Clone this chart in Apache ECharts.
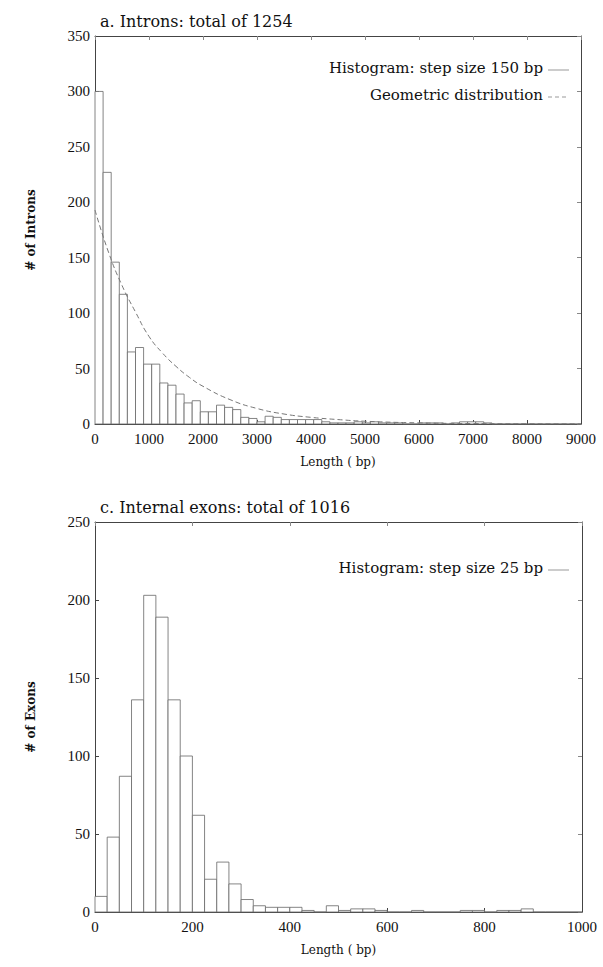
<!DOCTYPE html>
<html><head><meta charset="utf-8">
<script src="https://cdn.jsdelivr.net/npm/echarts@6/dist/echarts.min.js"></script>
<style>html,body{margin:0;padding:0;background:#fff}#c{width:603px;height:967px}</style>
</head><body><div id="c"></div>
<script>
// ---- Data ----
const intronStep = 150;
const intronCounts = [300,227,146,117,65,69,54,54,37,35,27,19,21,11,11,17,15,13,6,5,
  2,7,6,4,4,4,4,4,2,1,1,1,2,1,2,1,1,1,0,0,
  1,1,1,0,1,2,2,2,1,0,0,0,0,0,0,0,0,0,0,0];
const geoX = [0,250,500,750,1000,1250,1500,1750,2000,2500,3000,3500,4000,4500,5000,6000,7000,8000,9000];
const geoY = [193,155,125,101,79,64,52,42,34,22,14,9,6,4,2.5,1,0.4,0.2,0.1];
const exonStep = 25;
const exonCounts = [10,48,87,136,203,189,136,100,62,21,32,18,8,4,3,3,3,1,0,4,
  1,2,2,1,0,0,1,0,0,0,1,1,0,1,1,2,0,0,0,0];
const intronXTicks = [0,1000,2000,3000,4000,5000,6000,7000,8000,9000];
const intronYTicks = [0,50,100,150,200,250,300,350];
const exonXTicks = [0,200,400,600,800,1000];
const exonYTicks = [0,50,100,150,200,250];

const FONT = '"Liberation Serif", "DejaVu Serif", serif';
const WFONT = '"DejaVu Serif", "Liberation Serif", serif';
const AX = '#444';

function bins(counts, step){ return counts.map((c,i)=>[i*step,(i+1)*step,c]); }
function histItem(params, api){
  const p0 = api.coord([api.value(0), api.value(2)]);
  const p1 = api.coord([api.value(1), 0]);
  return {type:'rect', shape:{x:p0[0], y:p0[1], width:p1[0]-p0[0], height:p1[1]-p0[1]},
    style:{fill:'#fff', stroke:'#666', lineWidth:0.8}};
}
const plain = v => String(v);
function xAxes(gi, ticks){
  const max = ticks[ticks.length-1], iv = ticks[1]-ticks[0];
  return [
    {type:'value', gridIndex:gi, min:ticks[0], max:max, interval:iv, position:'bottom',
     axisLine:{onZero:false, lineStyle:{color:AX,width:1}}, axisTick:{inside:true,length:4,lineStyle:{color:AX}},
     axisLabel:{color:'#111', fontFamily:FONT, fontSize:15, margin:7, formatter:plain}, splitLine:{show:false},
     name:'Length ( bp)', nameLocation:'middle', nameGap:32,
     nameTextStyle:{color:'#111', fontFamily:WFONT, fontSize:12}},
    {type:'value', gridIndex:gi, min:ticks[0], max:max, interval:iv, position:'top',
     axisLine:{onZero:false, lineStyle:{color:AX,width:1}}, axisTick:{inside:true,length:4,lineStyle:{color:'#888'}},
     axisLabel:{show:false}, splitLine:{show:false}}
  ];
}
function yAxes(gi, ticks, name){
  const max = ticks[ticks.length-1], iv = ticks[1]-ticks[0];
  return [
    {type:'value', gridIndex:gi, min:0, max:max, interval:iv, position:'left',
     axisLine:{show:true, onZero:false, lineStyle:{color:AX,width:1}}, axisTick:{show:true,inside:true,length:4,lineStyle:{color:AX}},
     axisLabel:{color:'#111', fontFamily:FONT, fontSize:15, margin:5, formatter:plain}, splitLine:{show:false},
     name:name, nameLocation:'middle', nameGap:58, nameRotate:90,
     nameTextStyle:{color:'#111', fontFamily:WFONT, fontSize:12, fontWeight:'bold'}},
    {type:'value', gridIndex:gi, min:0, max:max, interval:iv, position:'right',
     axisLine:{show:true, onZero:false, lineStyle:{color:AX,width:1}}, axisTick:{show:true,inside:true,length:4,lineStyle:{color:'#888'}},
     axisLabel:{show:false}, splitLine:{show:false}}
  ];
}

const chart = echarts.init(document.getElementById('c'), null, {renderer:'svg'});
chart.setOption({
  animation:false,
  backgroundColor:'#fff',
  title:[
    {text:'a. Introns: total of 1254', left:95, top:8, textStyle:{fontFamily:WFONT, fontSize:16, fontWeight:'normal', color:'#111'}},
    {text:'c. Internal exons: total of 1016', left:95, top:494, textStyle:{fontFamily:WFONT, fontSize:16, fontWeight:'normal', color:'#111'}}
  ],
  grid:[
    {left:95, top:36, width:486, height:388},
    {left:95, top:522, width:487, height:390}
  ],
  xAxis:[...xAxes(0, intronXTicks), ...xAxes(1, exonXTicks)],
  yAxis:[...yAxes(0, intronYTicks, '# of Introns'), ...yAxes(1, exonYTicks, '# of Exons')],
  series:[
    {type:'custom', xAxisIndex:0, yAxisIndex:0, renderItem:histItem, data:bins(intronCounts,intronStep), encode:{x:[0,1], y:2}},
    {type:'line', xAxisIndex:0, yAxisIndex:0, data:geoX.map((x,i)=>[x,geoY[i]]), symbol:'none', smooth:true,
     lineStyle:{color:'#777', width:1, type:[5,3]}, z:5},
    {type:'custom', xAxisIndex:2, yAxisIndex:2, renderItem:histItem, data:bins(exonCounts,exonStep), encode:{x:[0,1], y:2}}
  ],
  graphic:[
    {type:'text', right:60, top:60, style:{text:'Histogram: step size 150 bp', fontFamily:WFONT, fontSize:15, fill:'#111'}},
    {type:'line', shape:{x1:548, y1:70, x2:569, y2:70}, style:{stroke:'#999', lineWidth:1}},
    {type:'text', right:60, top:87, style:{text:'Geometric distribution', fontFamily:WFONT, fontSize:15, fill:'#111'}},
    {type:'line', shape:{x1:548, y1:97, x2:569, y2:97}, style:{stroke:'#999', lineWidth:1, lineDash:[4,3]}},
    {type:'text', right:60, top:560, style:{text:'Histogram: step size 25 bp', fontFamily:WFONT, fontSize:15, fill:'#111'}},
    {type:'line', shape:{x1:548, y1:570, x2:569, y2:570}, style:{stroke:'#999', lineWidth:1}}
  ]
});
</script></body></html>
